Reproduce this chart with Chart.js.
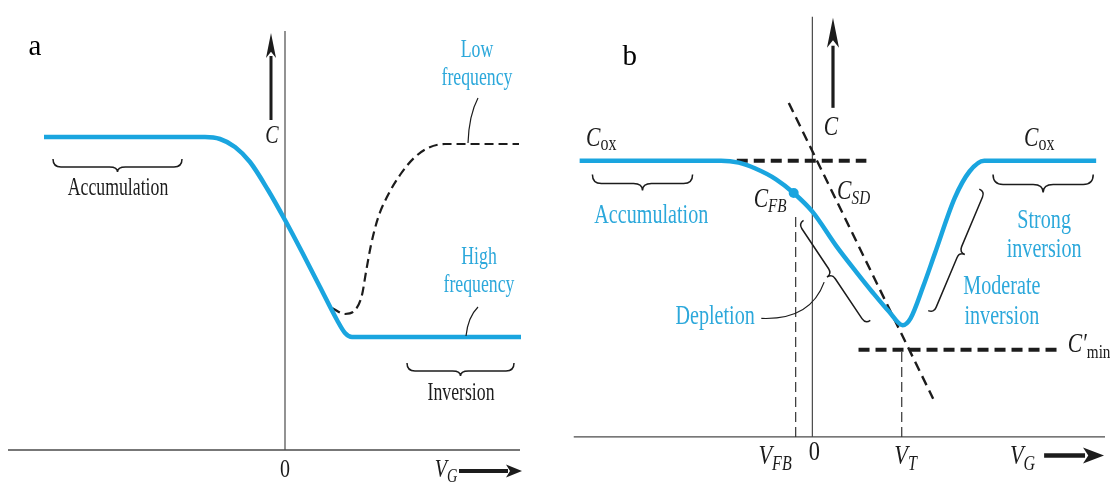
<!DOCTYPE html>
<html><head><meta charset="utf-8">
<script src="https://cdn.jsdelivr.net/npm/chart.js@4/dist/chart.umd.min.js"></script>
<style>
html,body{margin:0;padding:0;background:#fff;overflow:hidden}
#wrap{position:relative;width:1110px;height:485px;background:#fff}
canvas{position:absolute;top:0}
#ca{left:0}#cb{left:555px}
</style></head><body>
<div id="wrap"><canvas id="ca" width="555" height="485"></canvas><canvas id="cb" width="555" height="485"></canvas></div>
<script>
// ---------------- Panel a : MOS C–V, low vs high frequency ----------------
const aHighV = [-2.41,-0.80,-0.65,-0.50,-0.35,-0.17,0.00,0.17,0.35,0.52,0.60,0.67,0.80,2.36];
const aHighC = [3.13,3.13,3.11,3.03,2.88,2.60,2.30,1.98,1.63,1.30,1.17,1.13,1.13,1.13];
const aLowV  = [0.47,0.60,0.71,0.77,0.81,0.86,0.93,1.03,1.15,1.29,1.43,1.60,2.34];
const aLowC  = [1.42,1.36,1.41,1.55,1.78,2.05,2.32,2.55,2.75,2.92,3.02,3.06,3.06];
const aTickV = [0];
const aTickText = ['0'];

// ---------------- Panel b : regions of the C–V curve ----------------
const bCurveV = [-2.37,-0.93,-0.75,-0.58,-0.37,-0.19,0.00,0.25,0.45,0.61,0.78,0.92,1.00,1.13,1.25,1.45,1.60,1.75,2.89];
const bCurveC = [2.82,2.82,2.80,2.74,2.63,2.49,2.30,1.94,1.68,1.48,1.28,1.14,1.21,1.54,1.88,2.44,2.71,2.82,2.82];
const bCfbV = [-0.19], bCfbC = [2.49];
const bCoxV = [-0.77,0.55], bCoxC = [2.82,2.82];
const bCminV = [0.47,2.53], bCminC = [0.89,0.89];
const bCsdV = [-0.24,1.23], bCsdC = [3.41,0.39];
const bVfb = -0.17, bVt = 0.91;
const bTickV = [bVfb, 0, bVt];
const bTickText = [['V','FB'],['0',''],['V','T']];

const SER = '"Liberation Serif","DejaVu Serif",serif';
const BLUE = '#1aa5df', TBLUE = '#2ca8db', INK = '#1c1c1c', AXIS = '#4a4a4a';

const pts = (xs, ys) => xs.map((x, i) => ({x, y: ys[i]}));
const line = (data, color, width, dash, extra) => Object.assign({
  data, showLine: true, borderColor: color, borderWidth: width, borderDash: dash || [],
  pointRadius: 0, fill: false, tension: 0, clip: false
}, extra || {});

function rich(ctx, x, y, parts, o) {
  const sx = o.sx || 1;
  const fonts = parts.map(p => (p[2] ? 'italic ' : '') + p[1] + 'px ' + SER);
  let w = 0; const ws = [];
  parts.forEach((p, i) => { ctx.font = fonts[i]; const m = ctx.measureText(p[0]).width * sx; ws.push(m); w += m; });
  let cx = o.align === 'left' ? x : x - w / 2;
  ctx.fillStyle = o.color || INK; ctx.textBaseline = 'middle'; ctx.textAlign = 'left';
  parts.forEach((p, i) => {
    ctx.font = fonts[i]; ctx.save(); ctx.translate(cx, y + (p[3] || 0)); ctx.scale(sx, 1);
    ctx.fillText(p[0], 0, 0); ctx.restore(); cx += ws[i];
  });
}
function brace(ctx, A, B, side, h, t) {
  const dx = B.x - A.x, dy = B.y - A.y, L = Math.hypot(dx, dy), ux = dx / L, uy = dy / L;
  const nx = -uy * side, ny = ux * side;
  const M = {x: (A.x + B.x) / 2, y: (A.y + B.y) / 2};
  const P = (p, a, b) => ({x: p.x + ux * a + nx * b, y: p.y + uy * a + ny * b});
  ctx.beginPath(); ctx.moveTo(A.x, A.y);
  let c = P(A, 0, h), e = P(A, h, h); ctx.quadraticCurveTo(c.x, c.y, e.x, e.y);
  e = P(M, -h, h); ctx.lineTo(e.x, e.y);
  c = P(M, 0, h); e = P(M, 0, h + t); ctx.quadraticCurveTo(c.x, c.y, e.x, e.y);
  c = P(M, 0, h); e = P(M, h, h); ctx.quadraticCurveTo(c.x, c.y, e.x, e.y);
  e = P(B, -h, h); ctx.lineTo(e.x, e.y);
  c = P(B, 0, h); ctx.quadraticCurveTo(c.x, c.y, B.x, B.y);
  ctx.stroke();
}
function arrow(ctx, F, T, w, hl, hw) {
  const dx = T.x - F.x, dy = T.y - F.y, L = Math.hypot(dx, dy), ux = dx / L, uy = dy / L;
  const bx = T.x - ux * hl, by = T.y - uy * hl;
  ctx.strokeStyle = INK; ctx.fillStyle = INK; ctx.lineWidth = w; ctx.setLineDash([]);
  ctx.beginPath(); ctx.moveTo(F.x, F.y); ctx.lineTo(bx + ux * 2, by + uy * 2); ctx.stroke();
  ctx.beginPath(); ctx.moveTo(T.x, T.y); ctx.lineTo(bx - uy * hw, by + ux * hw);
  ctx.lineTo(bx + ux * hl * 0.25, by + uy * hl * 0.25); ctx.lineTo(bx + uy * hw, by - ux * hw); ctx.closePath(); ctx.fill();
}

function makeDecor(drawFn) {
  return { id: 'decor', afterDatasetsDraw(chart) {
    const xs = chart.scales.x, ys = chart.scales.y, ctx = chart.ctx;
    const P = (v, c) => ({x: xs.getPixelForValue(v), y: ys.getPixelForValue(c)});
    ctx.save(); drawFn(ctx, P); ctx.restore();
  }};
}

function baseOpts(xmin, xmax, ymin, ymax) {
  return {
    responsive: false, animation: false, events: [], devicePixelRatio: 1,
    layout: {padding: 0},
    plugins: {legend: {display: false}, tooltip: {enabled: false}},
    scales: {
      x: {type: 'linear', display: false, min: xmin, max: xmax},
      y: {type: 'linear', display: false, min: ymin, max: ymax}
    }
  };
}

// ---------- Chart a ----------
new Chart(document.getElementById('ca'), {
  type: 'scatter',
  data: {datasets: [
    line(pts(aHighV, aHighC), BLUE, 4.5, null, {cubicInterpolationMode: 'monotone'}),
    line(pts(aLowV, aLowC), INK, 2.2, [9, 5], {cubicInterpolationMode: 'monotone'}),
    line(pts([0, 0], [0, 4.19]), AXIS, 1.2),
    line(pts([-2.77, 2.35], [0, 0]), AXIS, 1.4)
  ]},
  options: baseOpts(-2.85, 2.70, -0.35, 4.50),
  plugins: [makeDecor((ctx, P) => {
    const sx = 0.71, fs = 25;
    let p = P(-2.50, 4.03); rich(ctx, p.x, p.y, [['a', 29]], {color: '#000'});
    arrow(ctx, P(-0.14, 3.30), P(-0.14, 4.17), 3, 25, 5);
    p = P(-0.13, 3.14); rich(ctx, p.x, p.y, [['C', 25, true]], {sx: 0.8});
    arrow(ctx, P(1.74, -0.21), P(2.37, -0.21), 4, 16, 6.5);
    p = P(1.61, -0.2); rich(ctx, p.x, p.y, [['V', 25, true], ['G', 18, true, 7]], {sx: 0.8});
    aTickV.forEach((v, i) => { const q = P(v, -0.2); rich(ctx, q.x, q.y, [[aTickText[i], 25]], {sx: 0.8}); });
    ctx.strokeStyle = INK; ctx.lineWidth = 1.5; ctx.setLineDash([]);
    brace(ctx, P(-2.32, 2.91), P(-1.03, 2.91), 1, 8, 5);
    brace(ctx, P(1.22, 0.87), P(2.29, 0.87), 1, 8, 5);
    ctx.lineWidth = 1.2;
    let a = P(1.93, 3.52), c = P(1.84, 3.35), b = P(1.83, 3.07);
    ctx.beginPath(); ctx.moveTo(a.x, a.y); ctx.quadraticCurveTo(c.x, c.y, b.x, b.y); ctx.stroke();
    a = P(1.93, 1.43); c = P(1.83, 1.33); b = P(1.81, 1.14);
    ctx.beginPath(); ctx.moveTo(a.x, a.y); ctx.quadraticCurveTo(c.x, c.y, b.x, b.y); ctx.stroke();
    p = P(-1.67, 2.62); rich(ctx, p.x, p.y, [['Accumulation', fs]], {sx, color: INK});
    p = P(1.92, 4.00); rich(ctx, p.x, p.y, [['Low', fs]], {sx, color: TBLUE});
    p = P(1.92, 3.72); rich(ctx, p.x, p.y, [['frequency', fs]], {sx, color: TBLUE});
    p = P(1.94, 1.93); rich(ctx, p.x, p.y, [['High', fs]], {sx, color: TBLUE});
    p = P(1.94, 1.65); rich(ctx, p.x, p.y, [['frequency', fs]], {sx, color: TBLUE});
    p = P(1.76, 0.57); rich(ctx, p.x, p.y, [['Inversion', fs]], {sx, color: INK});
  })]
});

// ---------- Chart b ----------
new Chart(document.getElementById('cb'), {
  type: 'scatter',
  data: {datasets: [
    {data: pts(bCfbV, bCfbC), pointRadius: 5, pointBackgroundColor: BLUE, pointBorderWidth: 0, showLine: false, clip: false},
    line(pts(bCurveV, bCurveC), BLUE, 4.5, null, {cubicInterpolationMode: 'monotone'}),
    line(pts(bCoxV, bCoxC), INK, 4, [11, 6]),
    line(pts(bCminV, bCminC), INK, 4, [11, 6]),
    line(pts(bCsdV, bCsdC), INK, 2.4, [10, 6]),
    line(pts([bVfb, bVfb], [0, 2.26]), '#333', 1.2, [10, 5]),
    line(pts([bVt, bVt], [0, bCminC[0]]), '#333', 1.2, [10, 5]),
    line(pts([0, 0], [0, 4.29]), AXIS, 1.2),
    line(pts([-2.43, 2.98], [0, 0]), AXIS, 1.4)
  ]},
  options: baseOpts(-2.57, 2.98, -0.44, 4.41),
  plugins: [makeDecor((ctx, P) => {
    const sx = 0.745, fs = 27;
    let p = P(-1.86, 3.88); rich(ctx, p.x, p.y, [['b', 29]], {color: '#000'});
    arrow(ctx, P(0.21, 3.36), P(0.21, 4.28), 3.2, 30, 6);
    p = P(0.19, 3.16); rich(ctx, p.x, p.y, [['C', 27, true]], {sx: 0.8});
    arrow(ctx, P(2.36, -0.19), P(2.97, -0.19), 4.5, 21, 8);
    p = P(2.14, -0.2); rich(ctx, p.x, p.y, [['V', 28, true], ['G', 20, true, 8]], {sx: 0.8});
    const tickPos = [-0.38, 0.02, 0.95];
    bTickV.forEach((v, i) => {
      const t = bTickText[i]; const q = P(tickPos[i], i === 1 ? -0.16 : -0.2);
      const parts = t[1] ? [[t[0], 28, true], [t[1], 20, true, 8]] : [[t[0], 28]];
      rich(ctx, q.x, q.y, parts, {sx: 0.8});
    });
    p = P(-2.15, 3.04); rich(ctx, p.x, p.y, [['C', 27, true], ['ox', 20, false, 6]], {sx: 0.8});
    p = P(2.31, 3.04); rich(ctx, p.x, p.y, [['C', 27, true], ['ox', 20, false, 6]], {sx: 0.8});
    p = P(-0.43, 2.42); rich(ctx, p.x, p.y, [['C', 27, true], ['FB', 19, true, 7]], {sx: 0.8});
    p = P(0.42, 2.50); rich(ctx, p.x, p.y, [['C', 27, true], ['SD', 19, true, 7]], {sx: 0.8});
    p = P(2.60, 0.94); rich(ctx, p.x, p.y, [['C\u2032', 27, true], ['min', 19, false, 8]], {sx: 0.8, align: 'left'});
    ctx.strokeStyle = INK; ctx.lineWidth = 1.5; ctx.setLineDash([]);
    brace(ctx, P(-2.24, 2.68), P(-1.22, 2.68), 1, 9, 7);
    brace(ctx, P(1.84, 2.68), P(2.86, 2.68), 1, 10, 8);
    brace(ctx, P(-0.09, 2.21), P(0.59, 1.19), 1, 6, 6);
    brace(ctx, P(1.70, 2.53), P(1.18, 1.29), -1, 6, 6);
    ctx.lineWidth = 1.2;
    let a = P(-0.52, 1.21), c = P(-0.02, 1.19), b = P(0.12, 1.58);
    ctx.beginPath(); ctx.moveTo(a.x, a.y); ctx.quadraticCurveTo(c.x, c.y, b.x, b.y); ctx.stroke();
    p = P(-1.64, 2.26); rich(ctx, p.x, p.y, [['Accumulation', fs]], {sx, color: TBLUE});
    p = P(-0.99, 1.23); rich(ctx, p.x, p.y, [['Depletion', fs]], {sx, color: TBLUE});
    p = P(2.36, 2.21); rich(ctx, p.x, p.y, [['Strong', fs]], {sx, color: TBLUE});
    p = P(2.36, 1.91); rich(ctx, p.x, p.y, [['inversion', fs]], {sx, color: TBLUE});
    p = P(1.93, 1.53); rich(ctx, p.x, p.y, [['Moderate', fs]], {sx, color: TBLUE});
    p = P(1.93, 1.23); rich(ctx, p.x, p.y, [['inversion', fs]], {sx, color: TBLUE});
  })]
});
</script>
</body></html>
